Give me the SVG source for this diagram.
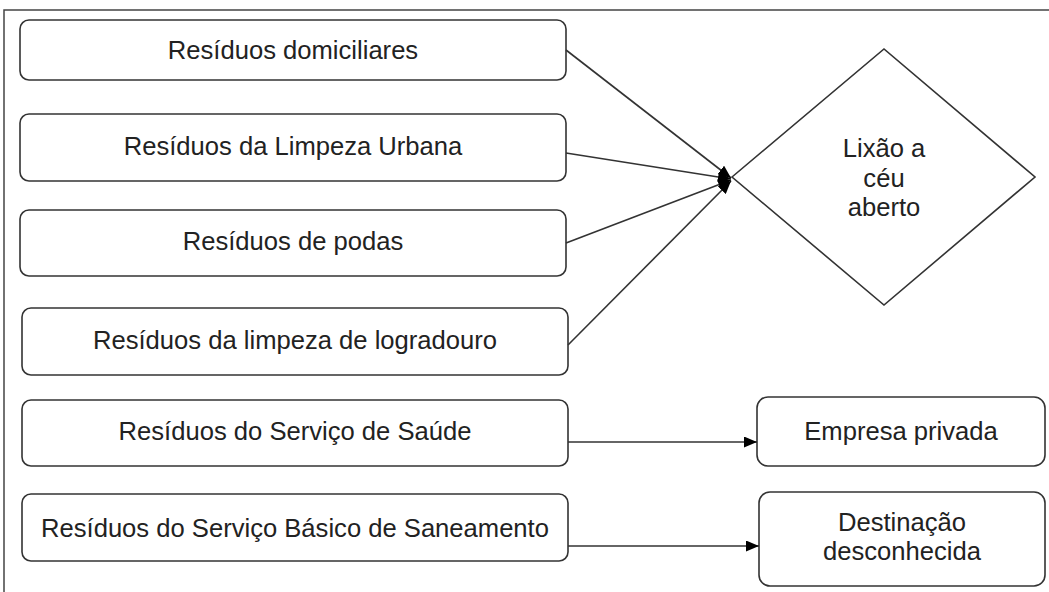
<svg xmlns="http://www.w3.org/2000/svg" width="1049" height="592" viewBox="0 0 1049 592">
<style>
.box{fill:#fff;stroke:#333;stroke-width:1.6}
.frame{fill:none;stroke:#444;stroke-width:1.5}
.lbl{font-family:"Liberation Sans",Arial,sans-serif;font-size:25.6px;fill:#222;text-anchor:middle}
.con{fill:none;stroke:#333;stroke-width:1.6;marker-end:url(#ah)}
</style>
<defs>
<marker id="ah" markerWidth="13" markerHeight="11" refX="13" refY="5.5" orient="auto" markerUnits="userSpaceOnUse">
<path d="M0,0 L13,5.5 L0,11 Z" fill="#000"/>
</marker>
</defs>
<rect width="1049" height="592" fill="#fff"/>
<path class="frame" d="M4,600 L4,10 L1060,10"/>
<g id="n1"><rect class="box" x="20" y="20" width="546" height="60" rx="9"/><text class="lbl" x="293" y="59">Resíduos domiciliares</text></g>
<g id="n2"><rect class="box" x="20" y="114" width="546" height="67" rx="9"/><text class="lbl" x="293" y="155">Resíduos da Limpeza Urbana</text></g>
<g id="n3"><rect class="box" x="20" y="210" width="546" height="66" rx="9"/><text class="lbl" x="293" y="250">Resíduos de podas</text></g>
<g id="n4"><rect class="box" x="22" y="308" width="546" height="67" rx="9"/><text class="lbl" x="295" y="349">Resíduos da limpeza de logradouro</text></g>
<g id="n5"><rect class="box" x="22" y="400" width="546" height="66" rx="9"/><text class="lbl" x="295" y="440">Resíduos do Serviço de Saúde</text></g>
<g id="n6"><rect class="box" x="22" y="494" width="546" height="67" rx="9"/><text class="lbl" x="295" y="537">Resíduos do Serviço Básico de Saneamento</text></g>
<g id="n7"><polygon class="box" points="732,177 884,49 1035,177 884,305"/><text class="lbl" x="884" y="157">Lixão a</text><text class="lbl" x="884" y="187">céu</text><text class="lbl" x="884" y="216">aberto</text></g>
<g id="n8"><rect class="box" x="757" y="397" width="288" height="69" rx="11"/><text class="lbl" x="901" y="440">Empresa privada</text></g>
<g id="n9"><rect class="box" x="759" y="492" width="286" height="94" rx="11"/><text class="lbl" x="902" y="531">Destinação</text><text class="lbl" x="902" y="560">desconhecida</text></g>
<g id="connectors">
<line class="con" x1="566" y1="50" x2="731" y2="178"/>
<line class="con" x1="566" y1="153" x2="731" y2="179"/>
<line class="con" x1="566" y1="243" x2="731" y2="180"/>
<line class="con" x1="568" y1="345" x2="731" y2="181"/>
<line class="con" x1="568" y1="442" x2="757" y2="442"/>
<line class="con" x1="568" y1="546" x2="759" y2="546"/>
</g>
</svg>
